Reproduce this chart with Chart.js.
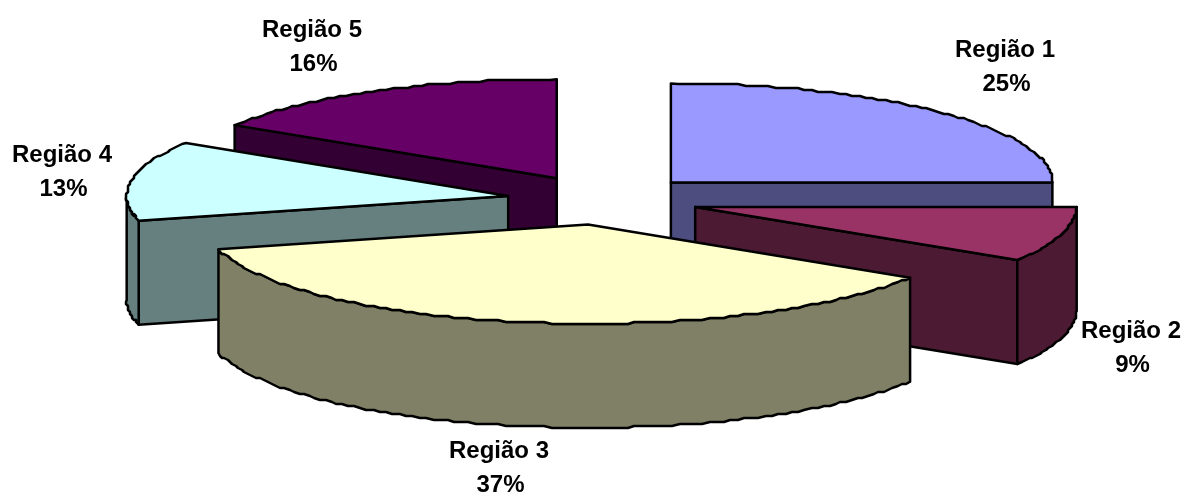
<!DOCTYPE html>
<html lang="pt">
<head>
<meta charset="utf-8">
<title>Participação por região</title>
<style>
  html, body { margin: 0; padding: 0; background: #ffffff; }
  canvas { display: block; }
</style>
<script src="https://cdn.jsdelivr.net/npm/chart.js@4"></script>
</head>
<body>
<canvas id="pie" width="1186" height="495"></canvas>
<script>
// Regional shares, in percent
const regions = ['Região 1', 'Região 2', 'Região 3', 'Região 4', 'Região 5'];
const shares = [25, 9, 37, 13, 16];
const topColors = ['#9999FF', '#993366', '#FFFFCC', '#CCFFFF', '#660066'];
const sideColors = ['#4D4D80', '#4D1A33', '#808066', '#668080', '#330033'];
// Painter's order: back slices first
const paintOrder = [4, 3, 0, 1, 2];

// Label anchors: centre x, y of the name line
const labelAnchors = [[1005, 50], [1131, 331], [499, 451], [62, 155], [312, 30]];

// Tilted, extruded rendering of the arcs the doughnut controller lays out
const tiltedPie = {
  id: 'tiltedPie',
  beforeDatasetDraw() { return false; },
  afterDatasetsDraw(chart, args, o) {
    const ctx = chart.ctx;
    const arcs = chart.getDatasetMeta(0).data;

    // Outline of the rim, sampled coarsely on a pixel grid
    const rim = (cx, cy, a0, a1, dy) => {
      const pts = [];
      const n = Math.max(1, Math.round((a1 - a0) / o.step));
      for (let i = 0; i <= n; i++) {
        const a = a0 + (a1 - a0) * i / n;
        let x = cx + o.rx * Math.cos(a);
        let y = cy + o.ry * Math.sin(a);
        if (i > 0 && i < n) {
          x = Math.round(x / o.grid) * o.grid;
          y = Math.round(y / o.grid) * o.grid;
        }
        pts.push([x, y + dy]);
      }
      return pts;
    };
    const paint = (pts, fill) => {
      ctx.beginPath();
      pts.forEach((p, i) => i ? ctx.lineTo(p[0], p[1]) : ctx.moveTo(p[0], p[1]));
      ctx.closePath();
      ctx.fillStyle = fill;
      ctx.fill();
      ctx.stroke();
    };

    ctx.save();
    ctx.strokeStyle = '#000000';
    ctx.lineWidth = 2.5;
    ctx.lineJoin = 'round';

    paintOrder.forEach(idx => {
      const { startAngle, endAngle } = arcs[idx].getProps(['startAngle', 'endAngle'], true);
      const mid = (startAngle + endAngle) / 2;
      const cx = o.cx + o.explode * Math.cos(mid);
      const cy = o.cy + o.explode * Math.sin(mid) * o.ry / o.rx;
      const apex = [cx, cy];
      const edge = a => [cx + o.rx * Math.cos(a), cy + o.ry * Math.sin(a)];
      const midPt = edge(mid);

      // A cut face shows when the slice's body lies above its edge
      const cutFace = a => {
        const p = edge(a);
        const dx = p[0] - cx;
        if (Math.abs(dx) < 1) return;
        const lineY = cy + (p[1] - cy) * (midPt[0] - cx) / dx;
        if (midPt[1] < lineY) {
          paint([apex, p, [p[0], p[1] + o.depth], [cx, cy + o.depth]], sideColors[idx]);
        }
      };
      cutFace(startAngle);
      cutFace(endAngle);

      // Outer wall: only the front half of the rim
      const w0 = Math.max(startAngle, 0);
      const w1 = Math.min(endAngle, Math.PI);
      if (w1 > w0) {
        const upper = rim(cx, cy, w0, w1, 0);
        const lower = rim(cx, cy, w0, w1, o.depth).reverse();
        paint(upper.concat(lower), sideColors[idx]);
      }

      // Top face
      paint([apex].concat(rim(cx, cy, startAngle, endAngle, 0)), topColors[idx]);
    });

    // Labels
    ctx.fillStyle = '#000000';
    ctx.font = 'bold 24px "Liberation Sans", Arial, sans-serif';
    ctx.textAlign = 'center';
    ctx.textBaseline = 'middle';
    regions.forEach((name, i) => {
      const [x, y] = labelAnchors[i];
      ctx.fillText(name, x, y);
      ctx.fillText(shares[i] + '%', x + o.shareShift, y + o.lineGap);
    });
    ctx.restore();
  }
};

new Chart(document.getElementById('pie'), {
  type: 'pie',
  data: {
    labels: regions,
    datasets: [{ data: shares, backgroundColor: topColors, borderColor: '#000000' }]
  },
  options: {
    responsive: false,
    animation: false,
    events: [],
    plugins: {
      legend: { display: false },
      tooltip: { enabled: false },
      tiltedPie: {
        cx: 603, cy: 200, rx: 381.5, ry: 99, explode: 96, depth: 104,
        step: 0.02, grid: 2, lineGap: 34, shareShift: 1.5
      }
    }
  },
  plugins: [tiltedPie]
});
</script>
</body>
</html>
